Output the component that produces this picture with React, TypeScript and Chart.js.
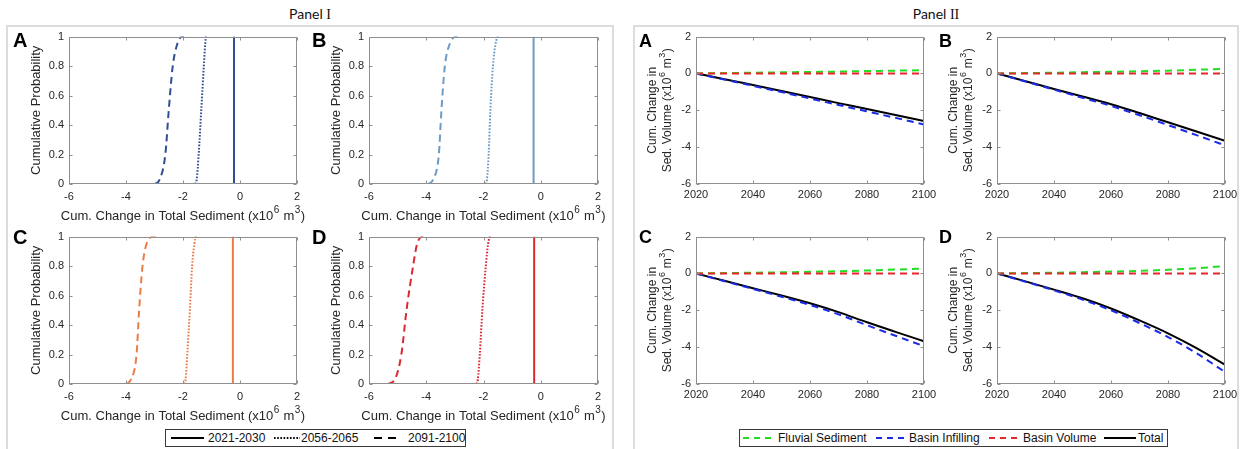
import React, { useEffect, useRef } from "react";
import { Chart, registerables } from "chart.js";

Chart.register(...registerables);

const FONT = "'Liberation Sans', Arial, Helvetica, sans-serif";

// ---------- Panel I data (cumulative distributions) ----------
const cdfProb = [0, 0.03, 0.2, 0.5, 0.8, 0.95, 1, 1];
const solidProb = [0, 1];

const aSolid = [-0.21, -0.21];
const aDotted = [-1.58, -1.52, -1.45, -1.36, -1.27, -1.22, -1.19, -1.17];
const aDashed = [-2.99, -2.82, -2.62, -2.5, -2.36, -2.2, -2.02, -1.96];

const bSolid = [-0.25, -0.25];
const bDotted = [-1.93, -1.88, -1.82, -1.76, -1.67, -1.58, -1.48, -1.46];
const bDashed = [-3.94, -3.76, -3.56, -3.47, -3.35, -3.18, -2.95, -2.8];

const cSolid = [-0.25, -0.25];
const cDotted = [-1.96, -1.91, -1.85, -1.76, -1.68, -1.6, -1.54, -1.52];
const cDashed = [-3.98, -3.83, -3.63, -3.54, -3.42, -3.28, -3.02, -2.94];

const dSolid = [-0.23, -0.23];
const dDotted = [-2.25, -2.2, -2.13, -2.04, -1.92, -1.84, -1.76, -1.74];
const dDashed = [-5.34, -5.1, -4.87, -4.69, -4.46, -4.32, -4.11, -3.95];

const panel1Colors = ["#2f4f90", "#6d9bc8", "#ec7b45", "#d82a30"];
const panel1Letters = ["A", "B", "C", "D"];
const panel1Ticks = { xMin: -6, xMax: 2, xStep: 2, yMin: 0, yMax: 1, yStep: 0.2 };
const periodLabels = ["2021-2030", "2056-2065", "2091-2100"];

// ---------- Panel II data (cumulative change, x10^6 m^3) ----------
const years = [2020, 2030, 2040, 2050, 2060, 2070, 2080, 2090, 2100];

const aFluvial = [0, 0.02, 0.04, 0.06, 0.08, 0.1, 0.13, 0.15, 0.18];
const aInfill = [0, -0.33, -0.67, -1.01, -1.36, -1.71, -2.06, -2.41, -2.77];
const aVolume = [0, 0, 0, 0, 0, 0, 0, 0, 0];
const aTotal = [0, -0.31, -0.63, -0.95, -1.28, -1.61, -1.93, -2.26, -2.58];

const bFluvial = [0, 0.02, 0.04, 0.07, 0.09, 0.12, 0.15, 0.2, 0.25];
const bInfill = [0, -0.44, -0.88, -1.32, -1.76, -2.27, -2.8, -3.35, -3.9];
const bVolume = [0, 0, 0, 0, 0, 0, 0, 0, 0];
const bTotal = [0, -0.42, -0.84, -1.25, -1.67, -2.15, -2.65, -3.15, -3.65];

const cFluvial = [0, 0.02, 0.04, 0.06, 0.09, 0.12, 0.16, 0.21, 0.27];
const cInfill = [0, -0.42, -0.84, -1.26, -1.71, -2.22, -2.81, -3.38, -3.95];
const cVolume = [0, 0, 0, 0, 0, 0, 0, 0, 0];
const cTotal = [0, -0.4, -0.8, -1.2, -1.62, -2.1, -2.65, -3.17, -3.68];

const dFluvial = [0, 0.02, 0.04, 0.07, 0.1, 0.14, 0.2, 0.28, 0.4];
const dInfill = [0, -0.45, -0.92, -1.42, -2.0, -2.69, -3.45, -4.33, -5.35];
const dVolume = [0, 0, 0, 0, 0, 0, 0, 0, 0];
const dTotal = [0, -0.43, -0.88, -1.35, -1.9, -2.55, -3.25, -4.05, -4.95];

const seriesNames = ["Fluvial Sediment", "Basin Infilling", "Basin Volume", "Total"];
const seriesColors = ["#22dd22", "#1a2be6", "#e8262a", "#000000"];
const panel2Ticks = { xMin: 2020, xMax: 2100, xStep: 20, yMin: -6, yMax: 2, yStep: 2 };

// ---------- titles (with superscripts) ----------
type Seg = { t: string; sup?: boolean };
const X1_TITLE: Seg[] = [
  { t: "Cum. Change in Total Sediment (x10" },
  { t: "6", sup: true },
  { t: " m" },
  { t: "3", sup: true },
  { t: ")" },
];
const Y1_TITLE = "Cumulative Probability";
const Y2_LINE1: Seg[] = [{ t: "Cum. Change in" }];
const Y2_LINE2: Seg[] = [
  { t: "Sed. Volume (x10" },
  { t: "6", sup: true },
  { t: " m" },
  { t: "3", sup: true },
  { t: ")" },
];

// ---------- helpers ----------
const pts = (xs: number[], ys: number[]) => xs.map((x, i) => ({ x, y: ys[i] }));

function drawRich(ctx: CanvasRenderingContext2D, segs: Seg[], cx: number, cy: number, rot: number, size: number) {
  const base = `${size}px ${FONT}`;
  const supSize = Math.round(size * 0.75);
  const supF = `${supSize}px ${FONT}`;
  ctx.save();
  ctx.translate(cx, cy);
  ctx.rotate(rot);
  ctx.textBaseline = "middle";
  ctx.textAlign = "left";
  ctx.fillStyle = "#262626";
  const widths = segs.map((s) => {
    ctx.font = s.sup ? supF : base;
    return ctx.measureText(s.t).width + (s.sup ? 1 : 0);
  });
  const total = widths.reduce((a, b) => a + b, 0);
  let x = -total / 2;
  segs.forEach((s, i) => {
    ctx.font = s.sup ? supF : base;
    ctx.fillText(s.t, x + (s.sup ? 0.5 : 0), s.sup ? -size * 0.42 : 0);
    x += widths[i];
  });
  ctx.restore();
}

const boxPlugin = {
  id: "matlabBox",
  afterDatasetsDraw(chart: any) {
    const { ctx, chartArea: a, scales } = chart;
    const L = Math.round(a.left) + 0.5;
    const R = Math.round(a.right) - 0.5;
    const T = Math.round(a.top) + 0.5;
    const B = Math.round(a.bottom) - 0.5;
    ctx.save();
    ctx.strokeStyle = "#8f8f8f";
    ctx.lineWidth = 1;
    ctx.strokeRect(L, T, R - L, B - T);
    const tl = 3;
    ctx.beginPath();
    for (const t of scales.x.ticks) {
      const p = Math.round(scales.x.getPixelForValue(t.value)) + 0.5;
      ctx.moveTo(p, B);
      ctx.lineTo(p, B - tl);
      ctx.moveTo(p, T);
      ctx.lineTo(p, T + tl);
    }
    for (const t of scales.y.ticks) {
      const p = Math.round(scales.y.getPixelForValue(t.value)) + 0.5;
      ctx.moveTo(L, p);
      ctx.lineTo(L + tl, p);
      ctx.moveTo(R, p);
      ctx.lineTo(R - tl, p);
    }
    ctx.stroke();
    ctx.restore();
  },
};

type SubProps = {
  left: number;
  top: number;
  w: number;
  h: number;
  leftSpace: number;
  bottomSpace: number;
  datasets: any[];
  ticks: typeof panel1Ticks;
  kind: 1 | 2;
  xPad: number;
};

const TOP_PAD = 10;
const RIGHT_PAD = 18;

function SubChart(p: SubProps) {
  const ref = useRef<HTMLCanvasElement | null>(null);
  const cw = p.leftSpace + p.w + RIGHT_PAD;
  const ch = TOP_PAD + p.h + p.bottomSpace;
  useEffect(() => {
    if (!ref.current) return;
    const titlePlugin = {
      id: "richTitles",
      afterDraw(chart: any) {
        const { ctx, chartArea: a } = chart;
        const mx = (a.left + a.right) / 2;
        const my = (a.top + a.bottom) / 2;
        if (p.kind === 1) {
          drawRich(ctx, X1_TITLE, mx, a.bottom + 32, 0, 13);
        } else {
          drawRich(ctx, Y2_LINE1, a.left - 43, my, -Math.PI / 2, 12);
          drawRich(ctx, Y2_LINE2, a.left - 28, my, -Math.PI / 2, 12);
        }
      },
    };
    const chart = new Chart(ref.current, {
      type: "line",
      data: { datasets: p.datasets },
      options: {
        animation: false,
        responsive: false,
        events: [],
        layout: { padding: { top: TOP_PAD, right: RIGHT_PAD, left: 0, bottom: 0 } },
        plugins: { legend: { display: false }, tooltip: { enabled: false } },
        elements: { point: { radius: 0 } },
        scales: {
          x: {
            type: "linear",
            min: p.ticks.xMin,
            max: p.ticks.xMax,
            ticks: {
              stepSize: p.ticks.xStep,
              padding: p.xPad,
              color: "#262626",
              font: { family: FONT, size: 11 },
              maxRotation: 0,
              autoSkip: false,
              callback: (v: any) => String(v),
            },
            grid: { display: false, drawTicks: false, tickLength: 0 },
            border: { display: false },
            title: { display: false },
            afterFit: (s: any) => {
              s.height = p.bottomSpace;
            },
          },
          y: {
            type: "linear",
            min: p.ticks.yMin,
            max: p.ticks.yMax,
            ticks: {
              stepSize: p.ticks.yStep,
              padding: 5,
              color: "#262626",
              font: { family: FONT, size: 11 },
              autoSkip: false,
              callback: (v: any) => String(Math.round(v * 10) / 10),
            },
            grid: { display: false, drawTicks: false, tickLength: 0 },
            border: { display: false },
            title: {
              display: p.kind === 1,
              text: Y1_TITLE,
              color: "#262626",
              font: { family: FONT, size: 13, lineHeight: 1.2 },
              padding: { top: 4, bottom: 0 },
            },
            afterFit: (s: any) => {
              s.width = p.leftSpace;
            },
          },
        },
      },
      plugins: [boxPlugin, titlePlugin],
    } as any);
    return () => chart.destroy();
  }, []);
  return (
    <canvas
      ref={ref}
      width={cw}
      height={ch}
      style={{
        position: "absolute",
        left: p.left - p.leftSpace,
        top: p.top - TOP_PAD,
        width: cw,
        height: ch,
      }}
    />
  );
}

function panel1Datasets(color: string, solid: number[], dotted: number[], dashed: number[]) {
  return [
    {
      data: pts(solid, solidProb),
      borderColor: color,
      borderWidth: 2,
      tension: 0,
    },
    {
      data: pts(dotted, cdfProb),
      borderColor: color,
      borderWidth: 2,
      borderDash: [1.6, 1.6],
      cubicInterpolationMode: "monotone",
    },
    {
      data: pts(dashed, cdfProb),
      borderColor: color,
      borderWidth: 2,
      borderDash: [7, 4.5],
      cubicInterpolationMode: "monotone",
    },
  ];
}

function panel2Datasets(f: number[], inf: number[], vol: number[], tot: number[]) {
  const mk = (ys: number[], i: number, dashed: boolean) => ({
    data: pts(years, ys),
    borderColor: seriesColors[i],
    borderWidth: 2,
    borderDash: dashed ? [7, 5] : [],
    cubicInterpolationMode: "monotone",
  });
  return [mk(vol, 2, true), mk(f, 0, true), mk(inf, 1, true), mk(tot, 3, false)];
}

const p1Pos = [
  { left: 69, top: 35, w: 228 },
  { left: 369, top: 35, w: 229 },
  { left: 69, top: 235, w: 228 },
  { left: 369, top: 235, w: 229 },
];
const p2Pos = [
  { left: 696, top: 35, w: 228 },
  { left: 997, top: 35, w: 228 },
  { left: 696, top: 235, w: 228 },
  { left: 997, top: 235, w: 228 },
];

const p1Data = [
  panel1Datasets(panel1Colors[0], aSolid, aDotted, aDashed),
  panel1Datasets(panel1Colors[1], bSolid, bDotted, bDashed),
  panel1Datasets(panel1Colors[2], cSolid, cDotted, cDashed),
  panel1Datasets(panel1Colors[3], dSolid, dDotted, dDashed),
];
const p2Data = [
  panel2Datasets(aFluvial, aInfill, aVolume, aTotal),
  panel2Datasets(bFluvial, bInfill, bVolume, bTotal),
  panel2Datasets(cFluvial, cInfill, cVolume, cTotal),
  panel2Datasets(dFluvial, dInfill, dVolume, dTotal),
];

function LegendLine({ color, dash, x, w }: { color: string; dash?: string; x: number; w: number }) {
  return (
    <svg width={w} height={10} style={{ position: "absolute", left: x, top: 3 }}>
      <line x1={0} y1={5} x2={w} y2={5} stroke={color} strokeWidth={2} strokeDasharray={dash} />
    </svg>
  );
}

function LegendText({ x, children }: { x: number; children: React.ReactNode }) {
  return (
    <span
      style={{
        position: "absolute",
        left: x,
        top: 0,
        lineHeight: "16px",
        whiteSpace: "nowrap",
      }}
    >
      {children}
    </span>
  );
}

const legendBox = (left: number, width: number): React.CSSProperties => ({
  position: "absolute",
  left,
  top: 429,
  width,
  height: 18,
  border: "1px solid #3a3a3a",
  background: "#fff",
  fontFamily: FONT,
  fontSize: 12,
  color: "#111",
  boxSizing: "border-box",
});

const letterStyle = (left: number, top: number, size: number): React.CSSProperties => ({
  position: "absolute",
  left,
  top,
  fontFamily: FONT,
  fontWeight: "bold",
  fontSize: size,
  lineHeight: `${size}px`,
  color: "#000",
});

const titleStyle = (left: number, width: number): React.CSSProperties => ({
  position: "absolute",
  left,
  width,
  top: 5,
  textAlign: "center",
  fontFamily: "Lato, 'Open Sans', sans-serif",
  fontSize: 14,
  color: "#111",
});

export default function App() {
  const p1Letters = [
    [13, 30],
    [312, 30],
    [13, 227],
    [312, 227],
  ];
  const p2Letters = [
    [639, 32],
    [939, 32],
    [639, 228],
    [939, 228],
  ];
  return (
    <div
      style={{
        position: "absolute",
        left: 0,
        top: 0,
        width: 1242,
        height: 449,
        background: "#fff",
        overflow: "hidden",
      }}
    >
      {/* panel frames */}
      <div
        style={{
          position: "absolute",
          left: 6,
          top: 25,
          width: 604,
          height: 440,
          border: "2px solid #dcdcdc",
        }}
      />
      <div
        style={{
          position: "absolute",
          left: 633,
          top: 25,
          width: 602,
          height: 440,
          border: "2px solid #dcdcdc",
        }}
      />
      {/* panel titles */}
      <div style={titleStyle(6, 608)}>
        Panel <span style={{ fontFamily: "'Liberation Serif', serif" }}>I</span>
      </div>
      <div style={titleStyle(633, 606)}>
        Panel <span style={{ fontFamily: "'Liberation Serif', serif" }}>II</span>
      </div>

      {p1Pos.map((pos, i) => (
        <SubChart
          key={"p1" + i}
          left={pos.left}
          top={pos.top}
          w={pos.w}
          h={149}
          leftSpace={44}
          bottomSpace={42}
          datasets={p1Data[i]}
          ticks={panel1Ticks}
          kind={1}
          xPad={6}
        />
      ))}
      {p2Pos.map((pos, i) => (
        <SubChart
          key={"p2" + i}
          left={pos.left}
          top={pos.top}
          w={pos.w}
          h={149}
          leftSpace={55}
          bottomSpace={26}
          datasets={p2Data[i]}
          ticks={panel2Ticks}
          kind={2}
          xPad={4}
        />
      ))}

      {p1Letters.map(([l, t], i) => (
        <div key={"l1" + i} style={letterStyle(l, t, 20)}>
          {panel1Letters[i]}
        </div>
      ))}
      {p2Letters.map(([l, t], i) => (
        <div key={"l2" + i} style={letterStyle(l, t, 18)}>
          {panel1Letters[i]}
        </div>
      ))}

      {/* Panel I legend */}
      <div style={legendBox(165, 301)}>
        <LegendLine color="#000" x={5} w={33} />
        <LegendText x={42}>{periodLabels[0]}</LegendText>
        <LegendLine color="#000" x={108} w={26} dash="1.6 1.6" />
        <LegendText x={135}>{periodLabels[1]}</LegendText>
        <LegendLine color="#000" x={208} w={24} dash="8 6" />
        <LegendText x={242}>{periodLabels[2]}</LegendText>
      </div>

      {/* Panel II legend */}
      <div style={legendBox(739, 429)}>
        <LegendLine color={seriesColors[0]} x={3} w={28} dash="6 5" />
        <LegendText x={38}>{seriesNames[0]}</LegendText>
        <LegendLine color={seriesColors[1]} x={136} w={28} dash="6 5" />
        <LegendText x={169}>{seriesNames[1]}</LegendText>
        <LegendLine color={seriesColors[2]} x={249} w={28} dash="6 5" />
        <LegendText x={283}>{seriesNames[2]}</LegendText>
        <LegendLine color={seriesColors[3]} x={364} w={32} />
        <LegendText x={398}>{seriesNames[3]}</LegendText>
      </div>
    </div>
  );
}
